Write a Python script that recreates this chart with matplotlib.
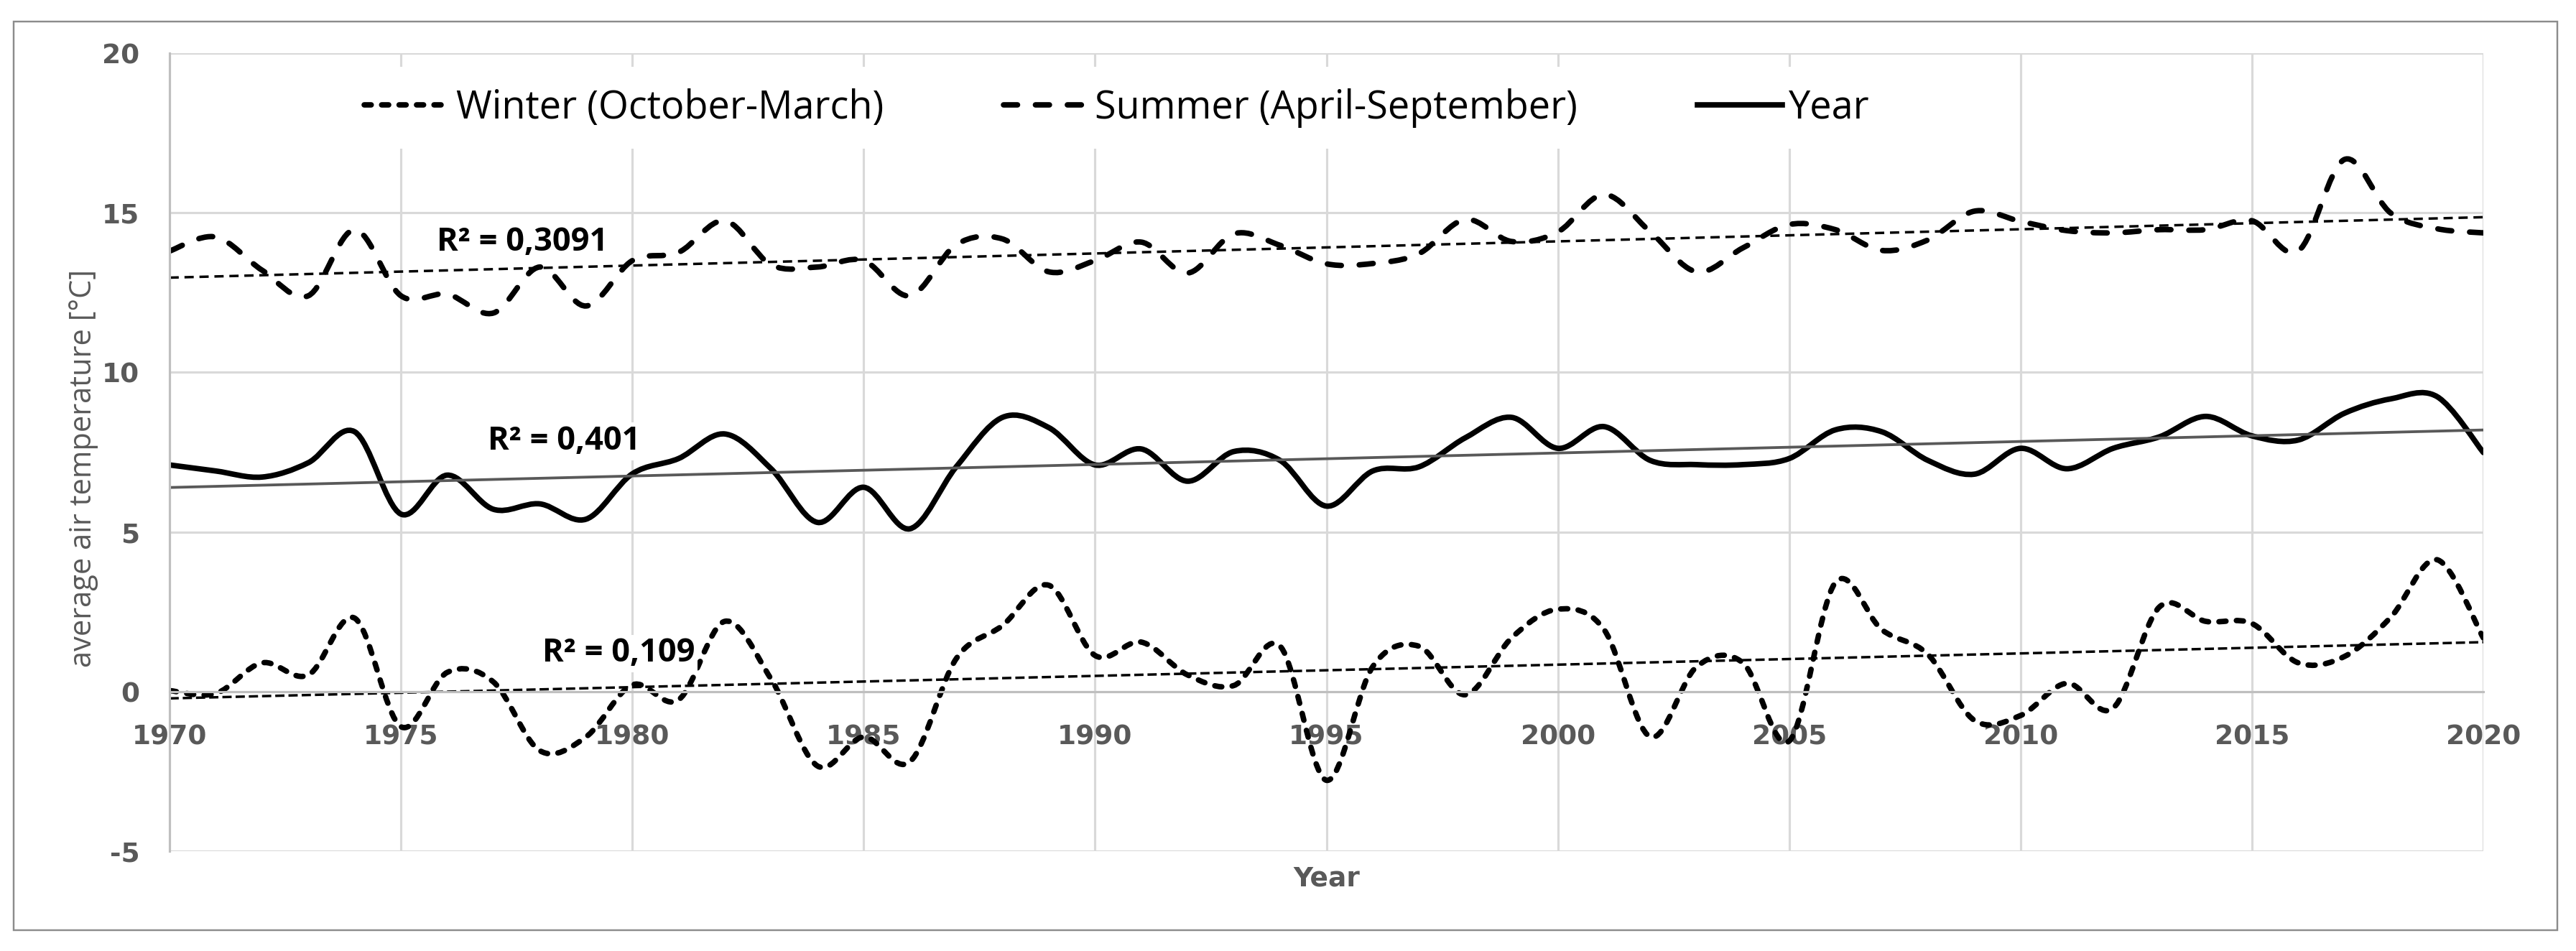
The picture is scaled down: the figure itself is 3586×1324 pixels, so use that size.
import numpy as np
import matplotlib
matplotlib.use("Agg")
import matplotlib.pyplot as plt
from matplotlib.path import Path
from matplotlib.patches import PathPatch, Rectangle
from matplotlib.lines import Line2D

plt.rcParams['lines.scale_dashes'] = False
plt.rcParams['axes.unicode_minus'] = False

# ---------------- data ----------------
years = list(range(1970, 2021))

summer = [13.80, 14.24, 13.20, 12.40, 14.47, 12.40, 12.45, 11.86, 13.30, 12.08,
          13.50, 13.76, 14.75, 13.37, 13.30, 13.50, 12.40, 14.00, 14.18, 13.15,
          13.50, 14.08, 13.11, 14.34, 13.98, 13.40, 13.41, 13.72, 14.79, 14.10,
          14.40, 15.57, 14.40, 13.15, 13.90, 14.63, 14.47, 13.82, 14.15, 15.05,
          14.73, 14.44, 14.37, 14.47, 14.47, 14.75, 13.80, 16.67, 14.99, 14.50,
          14.37]

year_avg = [7.10, 6.91, 6.72, 7.17, 8.14, 5.56, 6.78, 5.71, 5.88, 5.40,
            6.82, 7.30, 8.07, 6.98, 5.30, 6.40, 5.10, 7.04, 8.59, 8.27,
            7.10, 7.60, 6.59, 7.52, 7.24, 5.81, 6.91, 7.04, 7.95, 8.59,
            7.62, 8.30, 7.24, 7.11, 7.11, 7.30, 8.20, 8.14, 7.24, 6.81,
            7.62, 6.98, 7.62, 7.98, 8.62, 8.01, 7.88, 8.72, 9.17, 9.24,
            7.49]

winter = [0.03, -0.06, 0.90, 0.52, 2.30, -1.10, 0.60, 0.30, -1.85, -1.42,
          0.21, -0.26, 2.20, 0.39, -2.33, -1.42, -2.20, 1.03, 2.07, 3.33,
          1.13, 1.55, 0.52, 0.19, 1.42, -2.78, 0.78, 1.42, -0.10, 1.68,
          2.58, 1.94, -1.42, 0.78, 0.90, -1.55, 3.42, 1.94, 1.16, -0.90,
          -0.75, 0.26, -0.52, 2.65, 2.20, 2.13, 0.90, 1.10, 2.33, 4.13,
          1.68]

series_names = ["Winter (October-March)", "Summer (April-September)", "Year"]
r2_texts = ["R\u00b2 = 0,109", "R\u00b2 = 0,3091", "R\u00b2 = 0,401"]
x_ticks = list(range(1970, 2021, 5))
y_ticks = [-5, 0, 5, 10, 15, 20]

# ---------------- figure ----------------
W, H, DPI = 3586, 1324, 250
fig = plt.figure(figsize=(W / DPI, H / DPI), dpi=DPI)
fig.patch.set_facecolor('white')
ax = fig.add_axes([236 / W, 1 - 1185 / H, (3457 - 236) / W, (1185 - 74) / H])

# outer chart border
fig.patches.append(Rectangle((19 / W, 1 - 1295 / H), (3560 - 19) / W, (1295 - 30) / H,
                             transform=fig.transFigure, fill=False,
                             edgecolor='#8c8c8c', lw=0.7, zorder=0))


def smooth_path(xs, ys):
    """Excel-like smoothed line as cubic Bezier segments (Catmull-Rom)."""
    p = np.column_stack([np.asarray(xs, float), np.asarray(ys, float)])
    n = len(p)
    verts = [p[0]]
    codes = [Path.MOVETO]
    for i in range(n - 1):
        p0 = p[i - 1] if i > 0 else p[i]
        p1 = p[i]
        p2 = p[i + 1]
        p3 = p[i + 2] if i + 2 < n else p[i + 1]
        c1 = p1 + (p2 - p0) / 6.0
        c2 = p2 - (p3 - p1) / 6.0
        verts += [c1, c2, p2]
        codes += [Path.CURVE4] * 3
    return Path(verts, codes)


lw_series = 2.2
styles = {
    "winter": dict(ls=(0, (2.8, 4.2))),
    "summer": dict(ls=(0, (5.6, 7.2))),
    "year": dict(ls='-'),
}

data = [(winter, "winter"), (summer, "summer"), (year_avg, "year")]
for vals, key in data:
    patch = PathPatch(smooth_path(years, vals), transform=ax.transData, fill=False,
                      edgecolor='black', lw=lw_series, linestyle=styles[key]['ls'],
                      capstyle='round', joinstyle='round', zorder=2)
    ax.add_patch(patch)

# linear trend lines
xa = np.asarray(years, float)
trend_styles = [
    (winter, dict(color='black', lw=1.0, ls=(0, (3.7, 1.6)))),
    (summer, dict(color='black', lw=1.0, ls=(0, (3.7, 2.3)))),
    (year_avg, dict(color='#595959', lw=1.1, ls='-')),
]
for vals, st in trend_styles:
    k, b = np.polyfit(xa, np.asarray(vals, float), 1)
    ax.plot([years[0], years[-1]], [k * years[0] + b, k * years[-1] + b],
            color=st['color'], lw=st['lw'], linestyle=st['ls'], zorder=2.5)

# R^2 labels
r2_pos = [(1979.7, 1.19), (1977.62, 14.08), (1978.52, 7.84)]
for txt, (px, py) in zip(r2_texts, r2_pos):
    ax.text(px, py, txt, ha='center', va='center', fontsize=13, fontweight='bold',
            family=['Open Sans', 'DejaVu Sans'], color='black', zorder=3,
            bbox=dict(facecolor='white', edgecolor='none', pad=1.0))

# axes styling
ax.set_xlim(1970, 2020)
ax.set_ylim(-5, 20)
ax.set_xticks(x_ticks)
ax.set_yticks(y_ticks)
ax.set_axisbelow(True)
ax.grid(True, color='#d9d9d9', lw=0.9)
for s in ['top', 'right']:
    ax.spines[s].set_visible(False)
ax.spines['bottom'].set_position(('data', 0))
ax.spines['bottom'].set_color('#bfbfbf')
ax.spines['bottom'].set_linewidth(0.9)
ax.spines['left'].set_color('#bfbfbf')
ax.spines['left'].set_linewidth(0.9)
ax.tick_params(axis='x', length=0, pad=13)
ax.tick_params(axis='y', length=0, pad=12)
for lab in ax.get_xticklabels() + ax.get_yticklabels():
    lab.set_fontsize(10.8)
    lab.set_fontweight('bold')
    lab.set_color('#595959')
    lab.set_family('DejaVu Sans')

ax.set_xlabel("Year", fontsize=10.8, fontweight='bold', color='#595959', family='DejaVu Sans')
ax.xaxis.set_label_coords(0.5, (1185 - 1223) / (1185 - 74))
ax.xaxis.label.set_va('center')
ax.set_ylabel("average air temperature [\u00b0C]", fontsize=12, color='#595959',
              family=['Open Sans', 'DejaVu Sans'])
ax.yaxis.set_label_coords((116 - 236) / (3457 - 236), (1185 - 652) / (1185 - 74))
ax.yaxis.label.set_va('center')

# legend
handles = [Line2D([], [], color='black', lw=lw_series, linestyle=styles[k]['ls'],
                  dash_capstyle='round') for k in ["winter", "summer", "year"]]
leg = fig.legend(handles, series_names, loc='center', ncol=3,
                 bbox_to_anchor=(1555 / W, 1 - 150 / H), bbox_transform=fig.transFigure,
                 frameon=True, fancybox=False, framealpha=1, edgecolor='none',
                 facecolor='white', prop={'family': ['Open Sans', 'DejaVu Sans'], 'size': 15.5},
                 handlelength=2.2, handletextpad=0.17, columnspacing=3.1, borderpad=0.55)
leg.set_zorder(5)

fig.savefig("out.png", dpi=DPI, facecolor='white')
